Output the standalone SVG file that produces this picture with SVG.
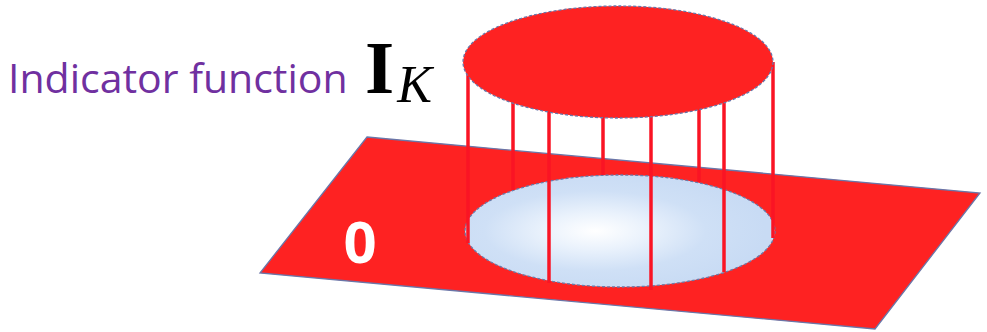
<svg xmlns="http://www.w3.org/2000/svg" width="987" height="332" viewBox="0 0 987 332">
<style>
.red{fill:#fe2222;}
.edge{stroke:#6a76a8;stroke-width:1.3;}
.rod{stroke:#fa1424;stroke-width:3.5;stroke-linecap:butt;}
.lab{font-family:"Open Sans","Noto Sans","Liberation Sans",sans-serif;fill:#7030a0;}
</style>
<defs>
<radialGradient id="glow" cx="0.42" cy="0.5" r="0.55" fx="0.42" fy="0.5">
<stop offset="0" stop-color="#ffffff"/>
<stop offset="0.3" stop-color="#eaf2fc"/>
<stop offset="0.65" stop-color="#cfe0f6"/>
<stop offset="1" stop-color="#c8dbf4"/>
</radialGradient>
</defs>
<rect width="987" height="332" fill="#ffffff"/>
<g id="plane">
<polygon class="red edge" points="367,137 980,193 875,329 260,273"/>
</g>
<g id="hole">
<ellipse cx="620" cy="231" rx="155" ry="56" fill="url(#glow)" stroke="#6a7aa8" stroke-width="1.3" stroke-dasharray="3 2"/>
</g>
<g id="rods">
<line class="rod" x1="468" y1="62" x2="468" y2="243"/>
<line class="rod" x1="513" y1="62" x2="513" y2="190"/>
<line class="rod" x1="549" y1="62" x2="549" y2="283"/>
<line class="rod" x1="603" y1="62" x2="603" y2="175"/>
<line class="rod" x1="651" y1="62" x2="651" y2="290"/>
<line class="rod" x1="699" y1="62" x2="699" y2="182"/>
<line class="rod" x1="724" y1="62" x2="724" y2="272"/>
<line class="rod" x1="773" y1="62" x2="773" y2="238"/>
</g>
<g id="top-disk">
<ellipse class="red" cx="618" cy="62" rx="155" ry="56" stroke="#6a76a8" stroke-width="1.3" stroke-dasharray="3 2"/>
</g>
<g id="label">
<text class="lab" x="8" y="93" font-size="41">Indicator function</text>
<text x="365" y="93" font-family="Liberation Serif,serif" font-weight="bold" font-size="75" fill="#000">I<tspan dx="3" dy="9" font-weight="normal" font-style="italic" font-size="52">K</tspan></text>
</g>
<g id="zero">
<text x="360" y="263" text-anchor="middle" font-family="Open Sans,Liberation Sans,sans-serif" font-weight="bold" font-size="58" fill="#ffffff">0</text>
</g>
</svg>
